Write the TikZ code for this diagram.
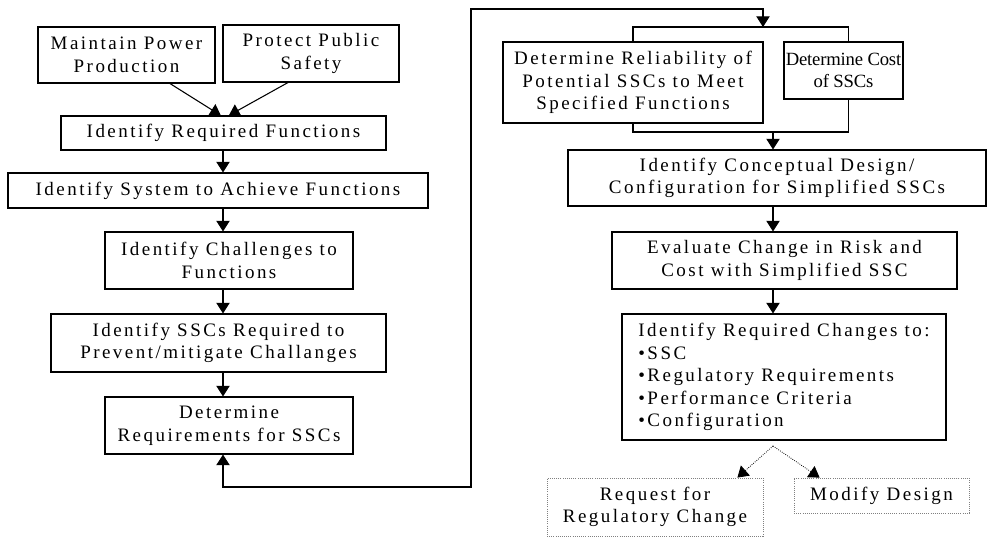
\documentclass[tikz,border=0pt]{standalone}
\usepackage{fontspec}
\setmainfont{Liberation Serif}[LetterSpace=13]
\usetikzlibrary{arrows.meta,positioning}
\begin{document}
\begin{tikzpicture}[x=0.75pt,y=-0.75pt,font=\fontsize{14.25}{16.9}\selectfont]

% --- Define Styles ---
\tikzset{
    stepbox/.style={draw, line width=0.8pt, align=center, inner sep=2pt},
    optbox/.style={draw=gray, densely dotted, line width=0.6pt, align=center, inner sep=2pt},
    link/.style={line width=0.8pt},
    flow/.style={-{Triangle[length=8pt,width=10pt]}, line width=0.8pt},
    optflow/.style={-{Triangle[length=8pt,width=10pt]}, densely dotted, line width=0.6pt}
}
\useasboundingbox (0,0) rectangle (987,539);

% ================= 1. FUNCTIONS AND REQUIREMENTS =================
\node[stepbox, minimum width=132.75pt, minimum height=42pt] (maint) at (126.5,55) {Maintain Power\\Production};
\node[stepbox, minimum width=132pt, minimum height=42.75pt] (protect) at (311,53.5) {Protect Public\\Safety};
\node[stepbox, minimum width=243.75pt, minimum height=25.5pt] (reqfun) at (223.5,133) {Identify Required Functions};
\node[stepbox, minimum width=315pt, minimum height=26.25pt] (system) at (218,190.5) {Identify System to Achieve Functions};
\node[stepbox, minimum width=186pt, minimum height=42.75pt] (chall) at (229,260.5) {Identify Challenges to\\Functions};
\node[stepbox, minimum width=251.25pt, minimum height=43.5pt] (sscreq) at (218.5,343) {Identify SSCs Required to\\Prevent/mitigate Challanges};
\node[stepbox, minimum width=186pt, minimum height=42.75pt] (detreq) at (229,425.5) {Determine\\Requirements for SSCs};

\coordinate (lx) at (223,0);
\draw[flow] ([xshift=32.6pt]maint.south) -- ([xshift=-2pt]reqfun.north);
\draw[flow] ([xshift=-17.25pt]protect.south) -- ([xshift=4pt]reqfun.north);
\draw[flow] (lx |- reqfun.south) -- (lx |- system.north);
\draw[flow] (lx |- system.south) -- (lx |- chall.north);
\draw[flow] (lx |- chall.south) -- (lx |- sscreq.north);
\draw[flow] (lx |- sscreq.south) -- (lx |- detreq.north);

% ================= 2. RELIABILITY, COST AND DESIGN =================
\node[stepbox, minimum width=195pt, minimum height=60.75pt] (rel) at (633,82.5) {Determine Reliability of\\Potential SSCs to Meet\\Specified Functions};
\node[stepbox, inner sep=0pt, minimum width=89.25pt, minimum height=42.75pt,
      font=\fontsize{14}{16.9}\selectfont\addfontfeatures{LetterSpace=-1}] (cost) at (843.5,70.5) {Determine Cost\\of SSCs};
\node[stepbox, minimum width=313.5pt, minimum height=42pt] (concept) at (777,178) {Identify Conceptual Design/\\Configuration for Simplified SSCs};
\node[stepbox, minimum width=258.75pt, minimum height=42.75pt] (evaluate) at (784.5,260.5) {Evaluate Change in Risk and\\Cost with Simplified SSC};
\node[stepbox, align=left, minimum width=243pt, minimum height=94.5pt] (changes) at (784,377) {Identify Required Changes to:\\•SSC\\•Regulatory Requirements\\•Performance Criteria\\•Configuration};

\coordinate (rx) at (773,0);
\coordinate (split) at (763,27);
\coordinate (merge) at (773,132);
\draw[link] (rel.north) |- (split) -| ([xshift=3.4pt]cost.north);
\draw[link] (rel.south) |- (merge) -| ([xshift=3.4pt]cost.south);
\draw[flow] (merge) -- (rx |- concept.north);
\draw[flow] (rx |- concept.south) -- (rx |- evaluate.north);
\draw[flow] (rx |- evaluate.south) -- (rx |- changes.north);

% feedback loop
\coordinate (loopbot) at (223,487);
\coordinate (looptop) at (471,9);
\draw[link, {Triangle[length=8pt,width=10pt]}-{Triangle[length=8pt,width=10pt]}] (lx |- detreq.south) -- (loopbot) -| (looptop) -| (split);

% ================= 3. OUTCOMES =================
\node[optbox, minimum width=162pt, minimum height=43.5pt] (request) at (655,507) {Request for\\Regulatory Change};
\node[optbox, minimum width=131.25pt, minimum height=26.25pt] (modify) at (881.5,495.5) {Modify Design};

\coordinate (fork) at (773,446);
\draw[optflow] (fork) -- ([xshift=-19.5pt]request.north east);
\draw[optflow] (fork) -- ([xshift=19.5pt]modify.north west);

\end{tikzpicture}
\end{document}
